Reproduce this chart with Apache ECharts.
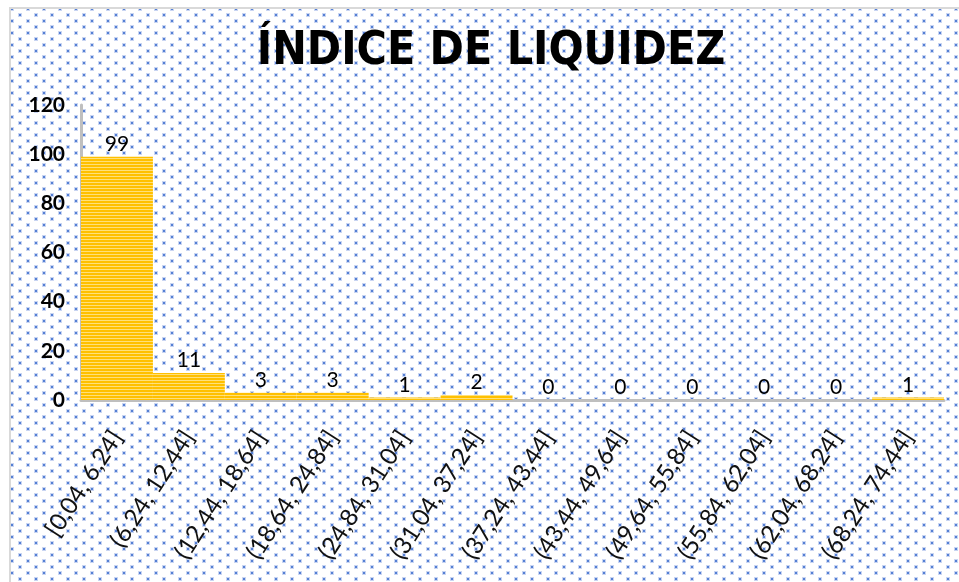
<!DOCTYPE html>
<html>
<head>
<meta charset="utf-8">
<script src="https://cdn.jsdelivr.net/npm/echarts@6/dist/echarts.min.js"></script>
<style>
  html, body { margin: 0; padding: 0; background: #fff; }
  #chart { width: 959px; height: 582px; }
</style>
</head>
<body>
<div id="chart"></div>
<script>
// datos del histograma
const categories = [
  '[0,04, 6,24]', '(6,24, 12,44]', '(12,44, 18,64]', '(18,64, 24,84]',
  '(24,84, 31,04]', '(31,04, 37,24]', '(37,24, 43,44]', '(43,44, 49,64]',
  '(49,64, 55,84]', '(55,84, 62,04]', '(62,04, 68,24]', '(68,24, 74,44]'
]
const frequencies = [99, 11, 3, 3, 1, 2, 0, 0, 0, 0, 0, 1]
const yTicks = [0, 20, 40, 60, 80, 100, 120]

// fondo punteado
const makeDots = () => {
  const c = document.createElement('canvas')
  c.width = 16
  c.height = 12
  const ctx = c.getContext('2d')
  ctx.fillStyle = '#fff'
  ctx.fillRect(0, 0, 16, 12)
  const dots = [[3, 2], [11, 8]]
  dots.forEach(([x, y]) => {
    ctx.fillStyle = 'rgba(120,150,222,0.4)'
    ctx.fillRect(x - 1, y - 1, 4, 4)
    ctx.fillStyle = '#5580d4'
    ctx.fillRect(x, y, 2, 2)
  })
  return c
}

// barras rayadas
const makeStripes = () => {
  const c = document.createElement('canvas')
  c.width = 4
  c.height = 3
  const ctx = c.getContext('2d')
  ctx.fillStyle = '#ffc000'
  ctx.fillRect(0, 0, 4, 3)
  ctx.fillStyle = '#ffe07a'
  ctx.fillRect(0, 2, 4, 1)
  return c
}

const chart = echarts.init(document.getElementById('chart'))

const option = {
  backgroundColor: '#fff',
  animation: false,
  graphic: [
    {
      type: 'rect',
      z: -100,
      shape: { x: 10, y: 8, width: 960, height: 590 },
      style: {
        fill: { image: makeDots(), repeat: 'repeat' },
        stroke: '#d9d9d9',
        lineWidth: 2
      }
    }
  ],
  title: {
    text: 'ÍNDICE DE LIQUIDEZ',
    left: 486,
    top: 24,
    textAlign: 'center',
    textStyle: {
      fontFamily: 'DejaVu Sans Condensed, Liberation Sans, sans-serif',
      fontWeight: 'bold',
      fontSize: 46,
      color: '#000'
    }
  },
  grid: {
    left: 81,
    right: 15,
    top: 105,
    bottom: 182,
    containLabel: false
  },
  xAxis: {
    type: 'category',
    data: categories,
    axisLine: { lineStyle: { color: '#bfbfbf', width: 3 } },
    axisTick: { show: false },
    axisLabel: {
      rotate: 57,
      interval: 0,
      margin: 33,
      color: '#111',
      fontFamily: 'Lato, sans-serif',
      fontSize: 24
    }
  },
  yAxis: {
    type: 'value',
    min: yTicks[0],
    max: yTicks[yTicks.length - 1],
    interval: 20,
    axisLine: { show: true, lineStyle: { color: '#bfbfbf', width: 3 } },
    axisTick: { show: false },
    splitLine: { show: false },
    axisLabel: {
      margin: 16,
      color: '#000',
      fontFamily: 'Lato, sans-serif',
      fontWeight: 'bold',
      fontSize: 21
    }
  },
  series: [
    {
      type: 'bar',
      data: frequencies,
      barCategoryGap: 0,
      itemStyle: { color: { image: makeStripes(), repeat: 'repeat' } },
      label: {
        show: true,
        position: 'top',
        distance: 2,
        color: '#000',
        fontFamily: 'Lato, sans-serif',
        fontSize: 21
      }
    }
  ]
}

chart.setOption(option)
</script>
</body>
</html>
